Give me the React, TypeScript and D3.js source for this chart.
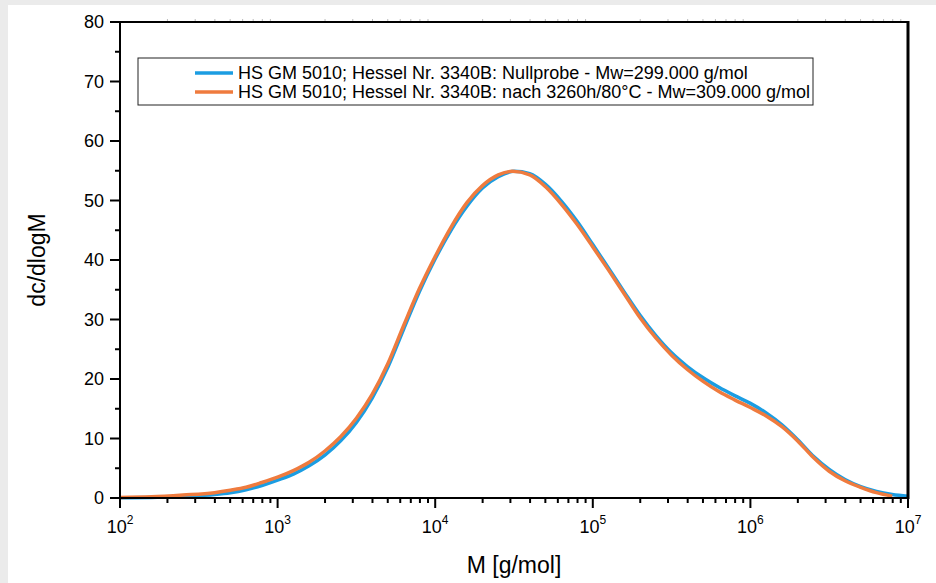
import React from "react";
import * as d3 from "d3";

// log10(M) sampling points and dc/dlogM values
const logM_null = [2.0, 2.2, 2.4, 2.6, 2.7, 2.8, 2.9, 3.0, 3.1, 3.2, 3.3, 3.4, 3.5, 3.6, 3.7, 3.8, 3.9, 4.0, 4.1, 4.2, 4.3, 4.4, 4.5, 4.6, 4.7, 4.8, 4.9, 5.0, 5.1, 5.2, 5.3, 5.4, 5.5, 5.6, 5.7, 5.8, 5.9, 6.0, 6.1, 6.2, 6.3, 6.4, 6.5, 6.6, 6.7, 6.8, 6.9, 7.0];
const dc_null = [0.05, 0.1, 0.3, 0.6, 0.9, 1.4, 2.1, 3.0, 4.0, 5.4, 7.2, 9.6, 12.7, 16.8, 22.0, 28.4, 34.7, 40.2, 45.0, 49.0, 52.1, 54.0, 54.9, 54.5, 52.7, 49.9, 46.5, 42.6, 38.6, 34.6, 30.7, 27.3, 24.4, 22.1, 20.2, 18.6, 17.2, 15.9, 14.3, 12.3, 9.8, 7.0, 4.8, 3.1, 1.9, 1.1, 0.6, 0.3];

const logM_aged = [2.0, 2.2, 2.4, 2.6, 2.7, 2.8, 2.9, 3.0, 3.1, 3.2, 3.3, 3.4, 3.5, 3.6, 3.7, 3.8, 3.9, 4.0, 4.1, 4.2, 4.3, 4.4, 4.49, 4.6, 4.7, 4.8, 4.9, 5.0, 5.1, 5.2, 5.3, 5.4, 5.5, 5.6, 5.7, 5.8, 5.9, 6.0, 6.1, 6.2, 6.3, 6.4, 6.5, 6.6, 6.7, 6.8, 6.9];
const dc_aged = [0.1, 0.2, 0.5, 0.9, 1.3, 1.8, 2.6, 3.5, 4.6, 6.0, 7.9, 10.3, 13.4, 17.4, 22.6, 29.0, 35.2, 40.6, 45.5, 49.6, 52.5, 54.3, 54.9, 54.3, 52.3, 49.4, 46.0, 42.2, 38.3, 34.3, 30.3, 26.9, 24.0, 21.6, 19.6, 17.9, 16.5, 15.2, 13.8, 12.0, 9.6, 6.8, 4.5, 2.9, 1.8, 0.9, 0.3];

const seriesNames = [
  "HS GM 5010; Hessel Nr. 3340B: Nullprobe - Mw=299.000 g/mol",
  "HS GM 5010; Hessel Nr. 3340B: nach 3260h/80°C - Mw=309.000 g/mol",
];
const seriesColors = ["#1b9de2", "#ef7b3e"];

const xExponents = [2, 3, 4, 5, 6, 7];
const yTicks = [0, 10, 20, 30, 40, 50, 60, 70, 80];

export default function App() {
  const width = 936;
  const height = 583;
  const margin = { top: 22, right: 28, bottom: 85, left: 120 };
  const innerW = width - margin.left - margin.right;
  const innerH = height - margin.top - margin.bottom;

  const x = d3.scaleLog().domain([1e2, 1e7]).range([0, innerW]);
  const y = d3.scaleLinear().domain([0, 80]).range([innerH, 0]);

  const line = d3
    .line<[number, number]>()
    .x((d) => x(d[0]))
    .y((d) => y(d[1]))
    .curve(d3.curveMonotoneX);

  const series = [
    logM_null.map((l, i) => [Math.pow(10, l), dc_null[i]] as [number, number]),
    logM_aged.map((l, i) => [Math.pow(10, l), dc_aged[i]] as [number, number]),
  ];

  // minor ticks on the log axis (2..9 per decade)
  const minorX: number[] = [];
  for (let e = 2; e < 7; e++) {
    for (let k = 2; k <= 9; k++) minorX.push(k * Math.pow(10, e));
  }
  const minorY = d3.range(5, 80, 10);

  const font = "'Liberation Sans', Arial, sans-serif";

  return (
    <svg
      width={width}
      height={height}
      style={{ position: "absolute", left: 0, top: 0 }}
      fontFamily={font}
    >
      <rect width={width} height={height} fill="#ebebeb" />
      <rect x={8} y={5} width={width - 8} height={height - 5} fill="#ffffff" />
      <g transform={`translate(${margin.left},${margin.top})`}>
        {/* curves */}
        {series.map((s, i) => (
          <path
            key={i}
            d={line(s) || ""}
            fill="none"
            stroke={seriesColors[i]}
            strokeWidth={3.5}
            strokeLinejoin="round"
          />
        ))}

        {/* top axis with faint minor ticks */}
        {minorX.map((v, i) => (
          <line key={"tm" + i} x1={x(v)} x2={x(v)} y1={0} y2={-3} stroke="#bbbbbb" strokeWidth={1} />
        ))}
        <line x1={0} x2={innerW} y1={0} y2={0} stroke="#000" strokeWidth={2} />
        {/* right axis */}
        <line x1={innerW} x2={innerW} y1={-1} y2={innerH + 1} stroke="#000" strokeWidth={3} />

        {/* bottom axis */}
        <line x1={-1} x2={innerW} y1={innerH} y2={innerH} stroke="#000" strokeWidth={2} />
        {minorX.map((v, i) => (
          <line key={"bm" + i} x1={x(v)} x2={x(v)} y1={innerH} y2={innerH + 5} stroke="#000" strokeWidth={2} />
        ))}
        {xExponents.map((e) => (
          <g key={"bx" + e} transform={`translate(${x(Math.pow(10, e))},${innerH})`}>
            <line y1={0} y2={10} stroke="#000" strokeWidth={2} />
            <text y={35} textAnchor="middle" fontSize={18} fill="#000">
              <tspan>10</tspan>
              <tspan dy={-9} fontSize={12}>{e}</tspan>
            </text>
          </g>
        ))}

        {/* left axis */}
        <line x1={0} x2={0} y1={-1} y2={innerH + 1} stroke="#000" strokeWidth={2} />
        {minorY.map((v) => (
          <line key={"ym" + v} x1={-5} x2={0} y1={y(v)} y2={y(v)} stroke="#000" strokeWidth={2} />
        ))}
        {yTicks.map((v) => (
          <g key={"yt" + v} transform={`translate(0,${y(v)})`}>
            <line x1={-10} x2={0} stroke="#000" strokeWidth={2} />
            <text x={-16} dy="0.35em" textAnchor="end" fontSize={18} fill="#000">
              {v}
            </text>
          </g>
        ))}

        {/* axis titles */}
        <text x={innerW / 2} y={innerH + 75} textAnchor="middle" fontSize={23} fill="#000">
          M [g/mol]
        </text>
        <text
          transform={`translate(${45 - margin.left},${innerH / 2}) rotate(-90)`}
          textAnchor="middle"
          fontSize={23}
          fill="#000"
        >
          dc/dlogM
        </text>
      </g>

      {/* legend */}
      <g>
        <rect x={138} y={58} width={675} height={47} fill="#fff" stroke="#222" strokeWidth={1} />
        {seriesNames.map((name, i) => (
          <g key={"lg" + i} transform={`translate(0,${73 + i * 19})`}>
            <line x1={195} x2={233} y1={0} y2={0} stroke={seriesColors[i]} strokeWidth={3.5} />
            <text x={238} dy="0.35em" fontSize={18} fill="#000">
              {name}
            </text>
          </g>
        ))}
      </g>
    </svg>
  );
}
